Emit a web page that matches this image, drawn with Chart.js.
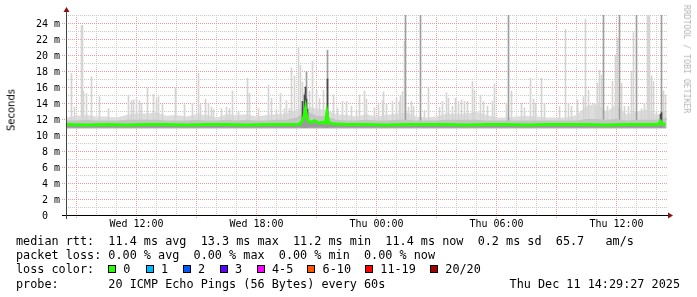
<!DOCTYPE html>
<html>
<head>
<meta charset="utf-8">
<script src="https://cdn.jsdelivr.net/npm/chart.js@4/dist/chart.umd.min.js"></script>
<style>
html, body { margin: 0; padding: 0; background: #fff; }
#wrap { position: relative; width: 697px; height: 297px; overflow: hidden; background: #fff; }
#chart { position: absolute; left: 0; top: 0; }
.mono { position: absolute; font-family: "DejaVu Sans Mono", monospace; color: #000; white-space: pre; }
.row { left: 16px; font-size: 11.8px; line-height: 14px; }
.box { position: absolute; width: 8px; height: 8px; box-sizing: border-box; border: 1px solid #000; top: 265px; }
.lossText { position: absolute; top: 262px; font-size: 11.8px; line-height: 14px; }
#ylabel { position: absolute; left: 11px; top: 110px; transform: translate(-50%, -50%) rotate(-90deg);
  font-family: "DejaVu Sans", sans-serif; font-size: 10px; color: #000; white-space: nowrap; }
#brand { position: absolute; left: 687px; top: 59px; transform: translate(-50%, -50%) rotate(90deg);
  font-family: "DejaVu Sans Mono", monospace; font-size: 8.2px; color: #b4b4b4; white-space: nowrap; }
</style>
</head>
<body>
<div id="wrap">
  <canvas id="chart" width="697" height="297"></canvas>
  <div id="ylabel">Seconds</div>
  <div id="brand">RRDTOOL / TOBI OETIKER</div>
  <div class="mono row" style="top:234px">median rtt:  11.4 ms avg  13.3 ms max  11.2 ms min  11.4 ms now  0.2 ms sd  65.7   am/s</div>
  <div class="mono row" style="top:248px">packet loss: 0.00 % avg  0.00 % max  0.00 % min  0.00 % now</div>
  <div class="mono row" style="top:262px">loss color:</div>
  <div id="loss"></div>
  <div class="mono row" style="top:276.5px">probe:       20 ICMP Echo Pings (56 Bytes) every 60s</div>
  <div class="mono row" style="top:276.5px; left:auto; right:17px">Thu Dec 11 14:29:27 2025</div>
</div>
<script>
// hours counted from Wed 00:00
const xLabelHours = [12, 18, 24, 30, 36];
const xLabels = ["Wed 12:00", "Wed 18:00", "Thu 00:00", "Thu 06:00", "Thu 12:00"];
const yLabelValues = [0, 2, 4, 6, 8, 10, 12, 14, 16, 18, 20, 22, 24];
const yLabels = ["0  ", "2 m", "4 m", "6 m", "8 m", "10 m", "12 m", "14 m", "16 m", "18 m", "20 m", "22 m", "24 m"];

const lossLabels = ["0", "1", "2", "3", "4-5", "6-10", "11-19", "20/20"];
const lossColors = ["#26ff00", "#00b8ff", "#0059ff", "#5e00ff", "#ff00ff", "#ff5500", "#ff0000", "#a10000"];

// light smoke band (ms), sampled every 30 min
const hazeHours = [8.5, 9, 9.5, 10, 10.5, 11, 11.5, 12, 12.5, 13, 13.5, 14, 14.5, 15, 15.5, 16, 16.5, 17, 17.5, 18,
  18.5, 19, 19.5, 20, 20.5, 21, 21.5, 22, 22.5, 23, 23.5, 24, 24.5, 25, 25.5, 26, 26.5, 27, 27.5, 28,
  28.5, 29, 29.5, 30, 30.5, 31, 31.5, 32, 32.5, 33, 33.5, 34, 34.5, 35, 35.5, 36, 36.5, 37, 37.5, 38, 38.5];
const hazeTop = [12.2, 12.4, 12.5, 12.3, 12.3, 12.2, 12.5, 12.7, 12.7, 12.8, 12.4, 12.5, 12.3, 12.6, 12.5, 12.2, 12.6, 12.5, 12.6, 12.3,
  12.5, 12.6, 12.7, 13.1, 13.6, 13.3, 13.1, 12.6, 12.5, 12.3, 12.6, 12.3, 12.5, 12.7, 12.8, 12.3, 12.2, 12.3, 12.7, 12.6,
  12.7, 12.9, 12.5, 12.2, 12.2, 12.3, 12.4, 12.3, 12.2, 12.2, 12.2, 12.5, 13.6, 14.0, 12.9, 13.8, 12.6, 12.9, 13.2, 12.5, 13.0];
const denseTop = [11.8, 11.8, 11.9, 11.8, 11.8, 11.8, 11.9, 11.9, 11.9, 11.9, 11.8, 11.8, 11.8, 11.9, 11.8, 11.8, 11.9, 11.8, 11.9, 11.8,
  11.8, 11.9, 11.9, 12.2, 13.0, 12.4, 12.3, 11.9, 11.8, 11.8, 11.9, 11.8, 11.8, 11.9, 11.9, 11.8, 11.8, 11.8, 11.9, 11.9,
  11.9, 11.9, 11.8, 11.8, 11.8, 11.8, 11.8, 11.8, 11.8, 11.8, 11.8, 11.8, 12.0, 12.0, 11.9, 12.0, 11.8, 11.9, 11.9, 11.9, 12.2];

// single ping strands
const lightSpikeHour = [8.75, 8.9, 9.25, 9.3, 9.35, 9.5, 9.75, 10.15, 10.6, 11.6, 11.75, 11.85, 12.0, 12.15, 12.25, 12.55, 12.85, 13.0, 13.1, 13.3,
  13.95, 14.4, 14.8, 15.1, 15.2, 15.45, 15.6, 15.75, 15.85, 16.25, 16.5, 16.65, 16.8, 17.1, 17.55, 17.65, 18.1, 18.6, 18.75, 19.0,
  19.2, 19.4, 19.5, 19.65, 19.75, 19.9, 20.1, 20.2, 20.3, 20.4, 20.65, 20.8, 21.0, 21.15, 21.35, 21.85, 22.05, 22.3, 22.5, 22.75,
  23.0, 23.15, 23.4, 23.5, 23.9, 24.1, 24.3, 24.35, 24.5, 24.8, 25.0, 25.15, 25.2, 25.3, 25.4, 25.6, 25.75, 25.85, 26.4, 26.6,
  27.15, 27.3, 27.5, 27.6, 27.8, 27.95, 28.1, 28.25, 28.4, 28.55, 28.8, 28.9, 29.2, 29.35, 29.55, 29.8, 29.9, 30.5, 30.75, 31.25,
  31.4, 31.7, 31.85, 31.95, 32.25, 32.4, 33.15, 33.45, 33.6, 33.75, 34.05, 34.35, 34.45, 34.6, 34.95, 35.05, 35.15, 35.25, 35.55, 35.8,
  35.95, 36.05, 36.25, 36.4, 36.6, 36.75, 36.85, 37.25, 37.4, 37.55, 37.6, 37.65, 37.75, 37.85, 38.0, 38.35, 38.45];
const lightSpikeTop = [17.7, 13.5, 23.7, 23.7, 15.5, 15.2, 17.3, 14.8, 13.3, 15.0, 14.3, 14.4, 14.5, 14.3, 14.0, 15.9, 15.1, 14.5, 14.8, 13.8,
  15.9, 13.8, 14.0, 17.7, 13.8, 14.5, 14.0, 13.5, 13.2, 13.3, 13.5, 13.3, 15.5, 13.0, 17.1, 15.2, 13.3, 16.2, 14.6, 13.2,
  15.2, 13.3, 14.3, 13.3, 18.4, 17.4, 21.0, 18.7, 16.6, 15.3, 15.5, 19.2, 15.6, 14.6, 15.6, 15.0, 13.3, 14.2, 14.2, 13.6,
  13.1, 15.0, 15.5, 14.5, 13.4, 13.8, 14.3, 15.4, 13.9, 14.2, 14.6, 14.2, 14.9, 15.4, 21.7, 13.5, 14.2, 13.6, 13.1, 16.0,
  13.5, 14.2, 15.3, 14.6, 13.6, 14.6, 14.2, 14.4, 14.2, 14.2, 16.7, 15.6, 15.0, 14.2, 13.6, 14.2, 16.4, 14.0, 15.5, 14.0,
  13.4, 17.1, 14.5, 14.0, 17.1, 14.0, 13.6, 23.2, 14.0, 13.6, 14.4, 14.8, 24.5, 15.6, 13.5, 16.5, 18.1, 17.5, 13.6, 16.7,
  20.0, 22.1, 16.5, 13.6, 13.6, 18.0, 22.8, 13.3, 14.0, 25.0, 25.0, 25.0, 17.4, 16.7, 13.0, 15.5, 15.0];
const midSpikeHour = [20.5, 21.55, 25.45, 26.2, 30.6, 35.35, 36.15, 37.0, 38.25];
const midSpikeTop = [17.9, 20.6, 25.0, 25.0, 25.0, 25.0, 25.0, 25.0, 25.0];
const darkSpikeHour = [20.3, 20.4, 20.45, 20.5, 20.55, 21.5, 21.55, 38.2, 38.25];
const darkSpikeTop = [14.2, 15.0, 16.0, 14.5, 13.2, 12.6, 17.0, 12.6, 12.8];

// median rtt (ms)
const medianHours = [8.5, 9.5, 10.5, 11.5, 12.5, 13.5, 14.5, 15.5, 16.5, 17.5, 18.5, 19.5, 20.15, 20.3, 20.4, 20.45, 20.5, 20.6,
  20.75, 20.9, 21.1, 21.3, 21.45, 21.52, 21.6, 21.8, 22.5, 23.5, 24.5, 25.5, 26.5, 27.5, 28.5, 29.5, 30.5, 31.5,
  32.5, 33.5, 34.5, 35.5, 36.5, 37.5, 38.1, 38.2, 38.3, 38.45];
const medianMs = [11.3, 11.25, 11.3, 11.25, 11.3, 11.3, 11.25, 11.3, 11.3, 11.25, 11.3, 11.3, 11.35, 11.8, 12.6, 13.3, 12.4, 11.7,
  11.6, 11.8, 11.5, 11.6, 11.5, 12.8, 11.6, 11.4, 11.3, 11.3, 11.25, 11.3, 11.3, 11.3, 11.25, 11.3, 11.3, 11.25,
  11.3, 11.3, 11.3, 11.25, 11.3, 11.3, 11.3, 11.7, 11.4, 11.3];

const smokeFloor = 10.8;
const spikeFloor = 11.0;
const lossBoxX = [108, 145.7, 182.7, 219.7, 256.7, 307.3, 365, 430];

const lossEl = document.getElementById("loss");
lossLabels.forEach((label, i) => {
    const box = document.createElement("div");
    box.className = "box";
    box.style.left = lossBoxX[i] + "px";
    box.style.background = lossColors[i];
    lossEl.appendChild(box);
    const txt = document.createElement("div");
    txt.className = "mono lossText";
    txt.style.left = lossBoxX[i] + 15.3 + "px";
    txt.textContent = label;
    lossEl.appendChild(txt);
});

const pts = (xs, ys) => xs.map((x, i) => ({ x, y: ys[i] }));
const bars = (xs, ys, lo) => xs.map((x, i) => ({ x, y: [lo, ys[i]] }));

const MGRID = "#eb9a9a";
const GRID = "#c8c8c8";

// rrdtool style dotted grid, one pixel dots on the scale ticks
const dotGrid = {
    id: "dotGrid",
    beforeDatasetsDraw(chart) {
        const { ctx, chartArea: a, scales } = chart;
        const px = (v) => Math.floor(v + 1e-6);
        ctx.save();
        scales.x.ticks.forEach(({ value }) => {
            const x = px(scales.x.getPixelForValue(value));
            const major = Math.round(value) % 3 === 0;
            ctx.fillStyle = major ? MGRID : GRID;
            const end = major ? a.bottom + 4 : a.bottom;
            for (let y = a.top; y < end; y += 2) ctx.fillRect(x, y, 1, 1);
        });
        scales.y.ticks.forEach(({ value }) => {
            if (value === 0) return;
            const y = px(scales.y.getPixelForValue(value));
            const major = Math.round(value) % 2 === 0;
            ctx.fillStyle = major ? MGRID : GRID;
            const start = major ? a.left - 4 : a.left;
            for (let x = start; x < a.right; x += 2) ctx.fillRect(x, y, 1, 1);
        });
        ctx.restore();
    },
};

const axisArrows = {
    id: "axisArrows",
    afterDatasetsDraw(chart) {
        const { ctx, chartArea: a } = chart;
        ctx.save();
        ctx.lineWidth = 1;
        ctx.strokeStyle = "#000";
        ctx.beginPath();
        ctx.moveTo(a.left - 4, a.bottom + 0.5);
        ctx.lineTo(a.right + 3, a.bottom + 0.5);
        ctx.stroke();
        ctx.strokeStyle = "#444";
        ctx.beginPath();
        ctx.moveTo(a.left + 0.5, a.bottom + 4);
        ctx.lineTo(a.left + 0.5, a.top - 4);
        ctx.stroke();
        ctx.fillStyle = "#8b1010";
        ctx.beginPath();
        ctx.moveTo(a.right + 1, a.bottom - 2.5);
        ctx.lineTo(a.right + 6, a.bottom + 0.5);
        ctx.lineTo(a.right + 1, a.bottom + 3.5);
        ctx.fill();
        ctx.beginPath();
        ctx.moveTo(a.left - 2.5, a.top - 3);
        ctx.lineTo(a.left + 0.5, a.top - 8);
        ctx.lineTo(a.left + 3.5, a.top - 3);
        ctx.fill();
        ctx.restore();
    },
};

Chart.defaults.font.family = "'DejaVu Sans Mono', monospace";
Chart.defaults.font.size = 10;
Chart.defaults.color = "#000";

new Chart(document.getElementById("chart"), {
    type: "line",
    data: {
        datasets: [
            {
                label: "median",
                data: pts(medianHours, medianMs),
                borderColor: "#26ff00",
                borderWidth: 3,
                pointRadius: 0,
                fill: { value: 10.9 },
                backgroundColor: "#9a9a9a",
                order: 0,
            },
            {
                type: "bar",
                label: "dark",
                data: bars(darkSpikeHour, darkSpikeTop, spikeFloor),
                backgroundColor: "#4a4a4a",
                order: 1,
            },
            {
                label: "dense",
                data: pts(hazeHours, denseTop),
                borderWidth: 0,
                pointRadius: 0,
                fill: { value: smokeFloor },
                backgroundColor: "#c4c4c4",
                order: 2,
            },
            {
                type: "bar",
                label: "mid",
                data: bars(midSpikeHour, midSpikeTop, spikeFloor),
                backgroundColor: "#9e9e9e",
                order: 3,
            },
            {
                type: "bar",
                label: "light",
                data: bars(lightSpikeHour, lightSpikeTop, spikeFloor),
                backgroundColor: "#d4d4d4",
                order: 4,
            },
            {
                label: "haze",
                data: pts(hazeHours, hazeTop),
                borderWidth: 0,
                pointRadius: 0,
                fill: { value: smokeFloor },
                backgroundColor: "#dddddd",
                order: 5,
            },
        ],
    },
    options: {
        responsive: false,
        animation: false,
        events: [],
        layout: { padding: { left: 0, right: 30, top: 15, bottom: 0 } },
        datasets: { bar: { grouped: false, barThickness: 1, borderWidth: 0 } },
        plugins: { legend: { display: false }, tooltip: { enabled: false } },
        scales: {
            x: {
                type: "linear",
                min: 8.475,
                max: 38.525,
                offset: false,
                afterFit: (s) => { s.height = 82; },
                afterBuildTicks: (s) => {
                    const t = [];
                    for (let h = 9; h <= 38; h++) t.push({ value: h });
                    s.ticks = t;
                },
                grid: { display: false, drawTicks: false, offset: false },
                border: { display: false },
                ticks: {
                    autoSkip: false,
                    maxRotation: 0,
                    padding: 3,
                    callback: (v) => {
                        const i = xLabelHours.indexOf(v);
                        return i >= 0 ? xLabels[i] : "";
                    },
                },
            },
            y: {
                min: 0,
                max: 25,
                afterFit: (s) => { s.width = 66; },
                afterBuildTicks: (s) => {
                    const t = [];
                    for (let v = 0; v <= 25; v++) t.push({ value: v });
                    s.ticks = t;
                },
                grid: { display: false, drawTicks: false },
                border: { display: false },
                ticks: {
                    autoSkip: false,
                    padding: 6,
                    labelOffset: 1.5,
                    callback: (v) => {
                        const i = yLabelValues.indexOf(v);
                        return i >= 0 ? yLabels[i] : "";
                    },
                },
            },
        },
    },
    plugins: [dotGrid, axisArrows],
});
</script>
</body>
</html>
